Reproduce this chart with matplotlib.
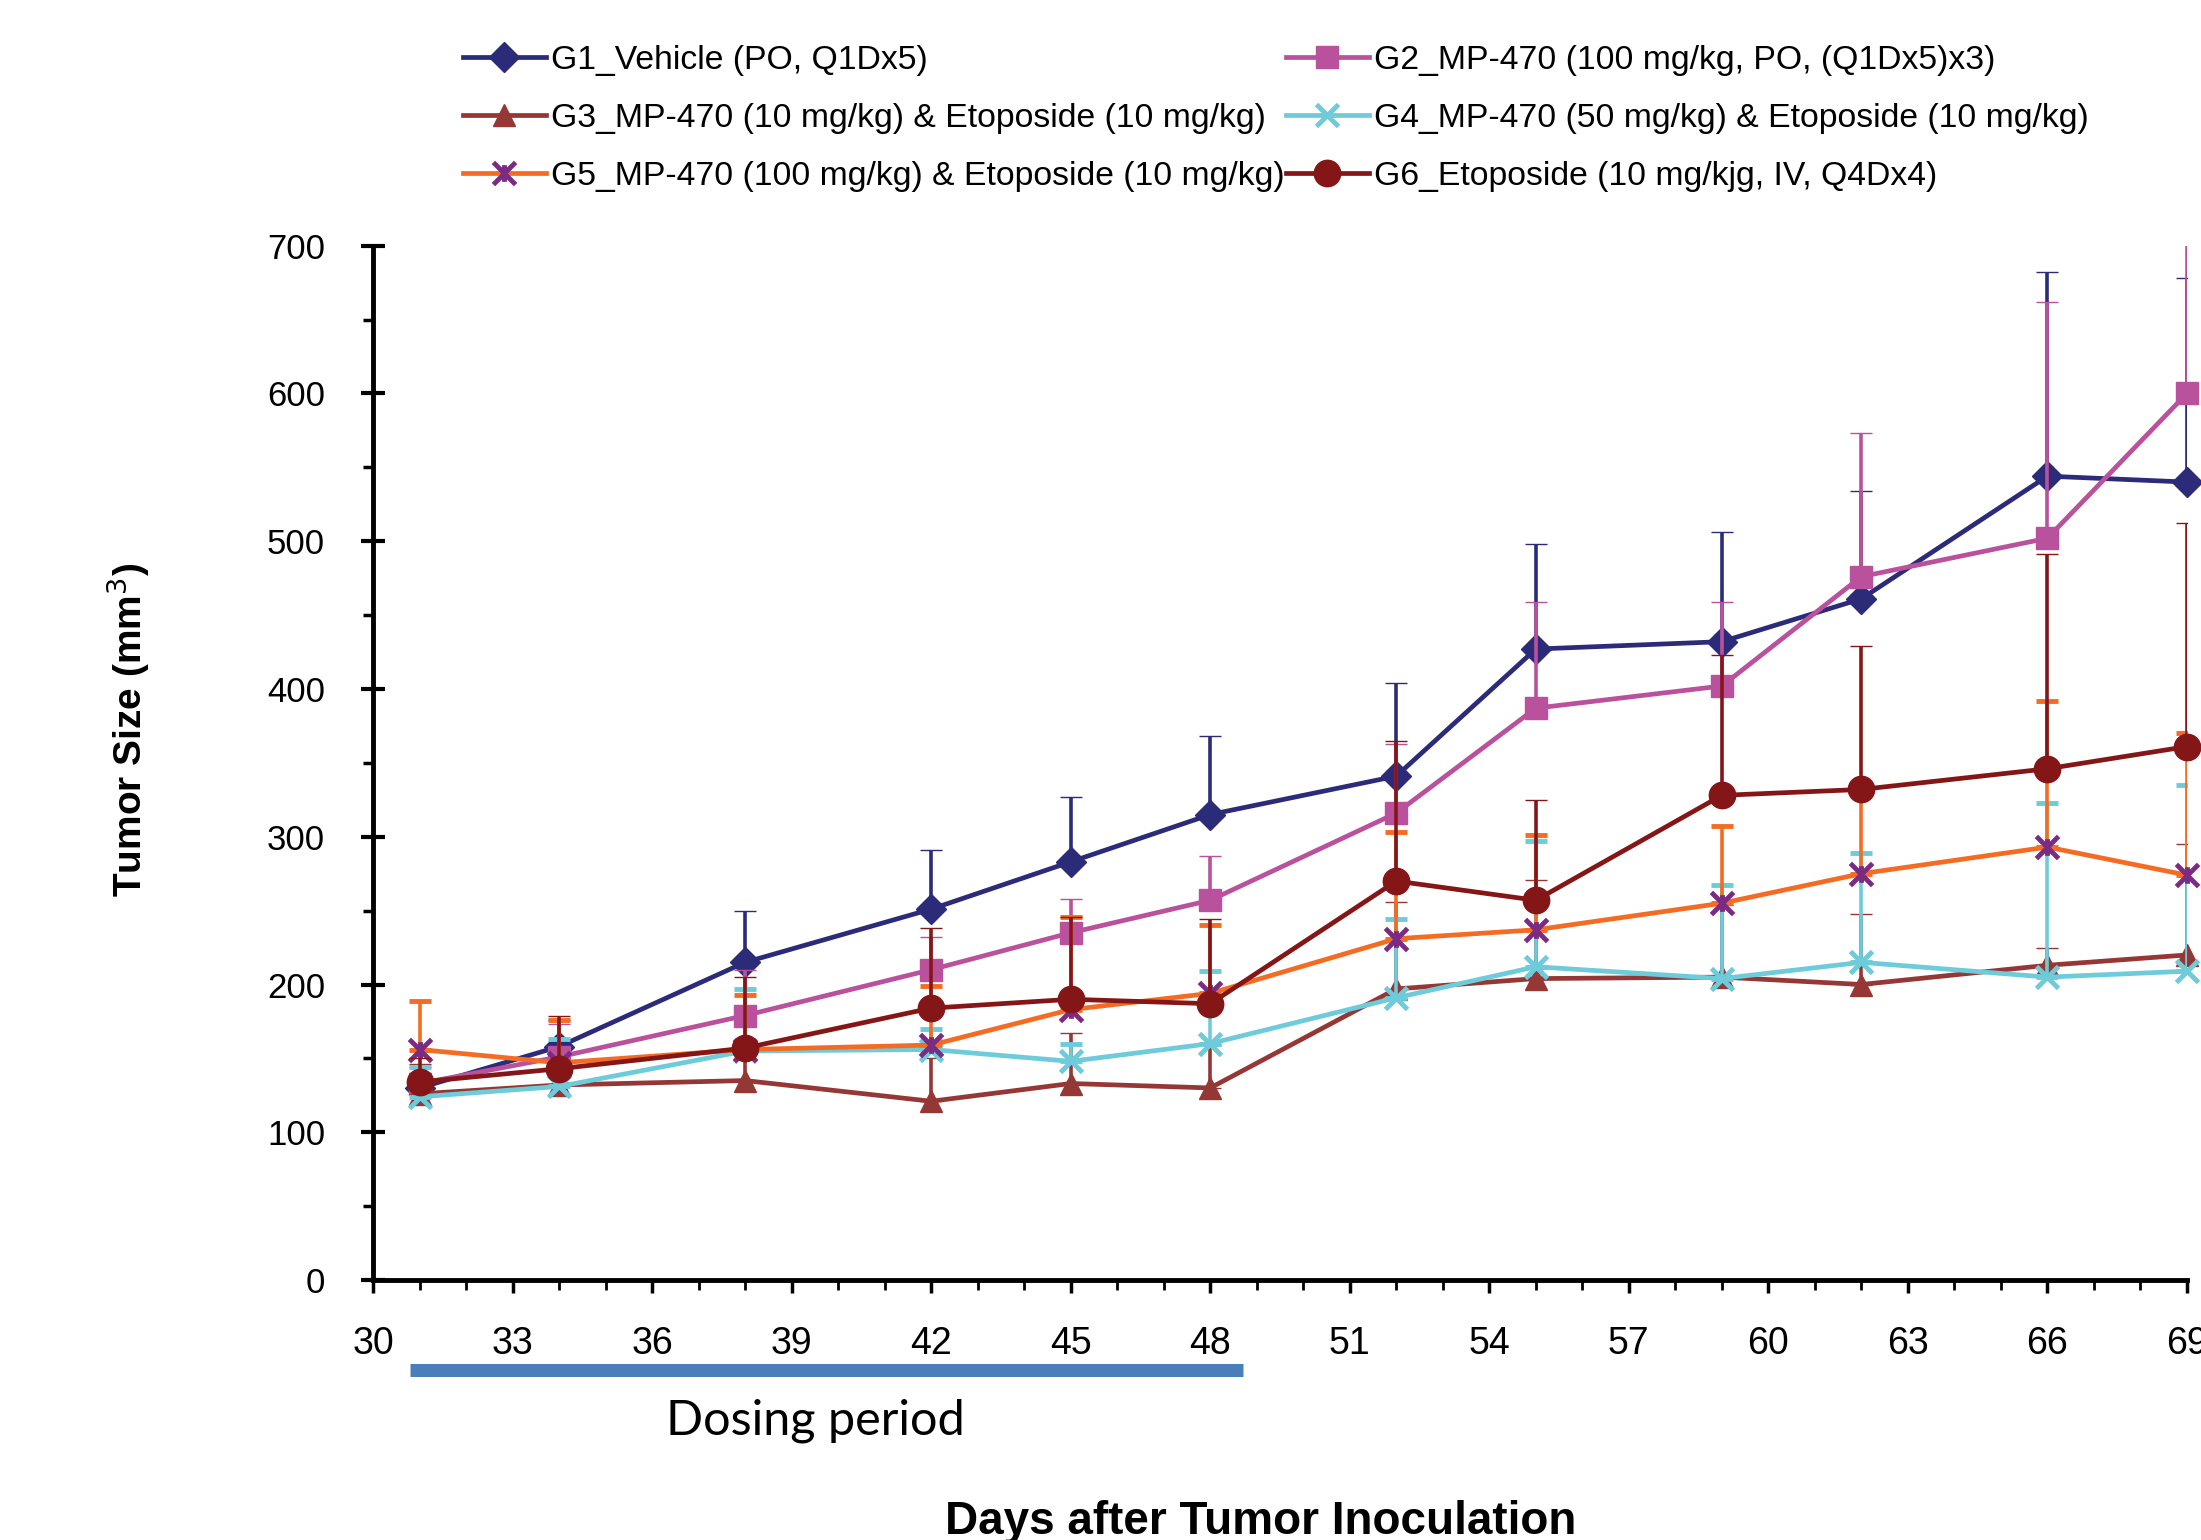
import numpy as np
import matplotlib
matplotlib.use('Agg')
import matplotlib.pyplot as plt
import matplotlib.transforms as mtransforms
from matplotlib.path import Path
from matplotlib.ticker import MultipleLocator

plt.rcParams['font.family'] = ['Liberation Sans', 'DejaVu Sans']

days = [31, 34, 38, 42, 45, 48, 52, 55, 59, 62, 66, 69]

# mean tumor size (mm3) and top of the error bar for each group
g1 = [130, 158, 215, 251, 283, 315, 341, 427, 432, 461, 544, 540]
g1_top = [140, 176, 250, 291, 327, 368, 404, 498, 506, 534, 682, 678]
g2 = [133, 151, 179, 210, 235, 257, 316, 387, 402, 476, 502, 600]
g2_top = [144, 173, 210, 232, 258, 287, 363, 459, 459, 573, 662, 735]
g3 = [126, 132, 135, 121, 133, 130, 197, 204, 205, 200, 213, 220]
g3_top = [146, 140, 150, 150, 167, 159, 256, 271, 254, 248, 225, 295]
g4 = [124, 131, 155, 156, 148, 160, 191, 212, 204, 215, 205, 209]
g4_top = [144, 163, 197, 170, 160, 209, 244, 297, 267, 289, 323, 335]
g5 = [156, 147, 156, 159, 183, 194, 231, 237, 255, 275, 293, 274]
g5_top = [189, 176, 193, 199, 246, 240, 303, 301, 307, 335, 392, 370]
g6 = [134, 143, 157, 184, 190, 187, 270, 257, 328, 332, 346, 361]
g6_top = [150, 179, 205, 238, 246, 244, 365, 325, 423, 429, 491, 512]

labels = ['G1_Vehicle (PO, Q1Dx5)',
          'G2_MP-470 (100 mg/kg, PO, (Q1Dx5)x3)',
          'G3_MP-470 (10 mg/kg) & Etoposide (10 mg/kg)',
          'G4_MP-470 (50 mg/kg) & Etoposide (10 mg/kg)',
          'G5_MP-470 (100 mg/kg) & Etoposide (10 mg/kg)',
          'G6_Etoposide (10 mg/kjg, IV, Q4Dx4)']

dosing = [30.8, 48.7]

# excel style star marker: an X with a short vertical stroke
star = Path([(-1, -1), (1, 1), (-1, 1), (1, -1), (0, -0.75), (0, 0.75)],
            [Path.MOVETO, Path.LINETO, Path.MOVETO, Path.LINETO, Path.MOVETO, Path.LINETO])

styles = [
    dict(color='#2B2B7A', marker='D', ms=15, mfc='#2B2B7A', mec='#2B2B7A', mew=1),
    dict(color='#B9519C', marker='s', ms=16, mfc='#B9519C', mec='#B9519C', mew=1),
    dict(color='#953735', marker='^', ms=16, mfc='#953735', mec='#953735', mew=1),
    dict(color='#6DCBDA', marker='x', ms=16, mfc='none', mec='#6DCBDA', mew=3.5),
    dict(color='#F46C23', marker=star, ms=16, mfc='none', mec='#7B2B83', mew=3.5),
    dict(color='#851617', marker='o', ms=19, mfc='#851617', mec='#851617', mew=1),
]
means = [g1, g2, g3, g4, g5, g6]
tops = [g1_top, g2_top, g3_top, g4_top, g5_top, g6_top]

fig = plt.figure(figsize=(22.01, 15.40), dpi=100)
ax = fig.add_axes([0.1695, 0.1688, 0.8241, 0.6717])

handles = []
for i in range(6):
    m = np.array(means[i])
    up = np.array(tops[i]) - m
    st = styles[i]
    cont = ax.errorbar(days, m, yerr=[np.zeros_like(up), up], color=st['color'], lw=3.4,
                       marker=st['marker'], ms=st['ms'], mfc=st['mfc'], mec=st['mec'],
                       mew=st['mew'], ecolor=st['color'], elinewidth=2.6, capsize=8,
                       capthick=3.2, zorder=3 + i, label=labels[i])
    cont[0].set_clip_on(False)
    handles.append(cont[0])

ax.set_xlim(30, 69)
ax.set_ylim(0, 700)
for side in ['top', 'right']:
    ax.spines[side].set_visible(False)
for side in ['left', 'bottom']:
    ax.spines[side].set_linewidth(3.5)

ax.xaxis.set_major_locator(MultipleLocator(3))
ax.xaxis.set_minor_locator(MultipleLocator(1))
ax.yaxis.set_major_locator(MultipleLocator(100))
ax.yaxis.set_minor_locator(MultipleLocator(50))
ax.tick_params(axis='y', which='major', direction='inout', length=17, width=3, labelsize=25, pad=26)
ax.tick_params(axis='y', which='minor', direction='out', length=7, width=2.5)
ax.tick_params(axis='x', which='major', direction='out', length=9, width=2.5, labelsize=27, pad=24)
ax.tick_params(axis='x', which='minor', direction='out', length=7, width=2)

ax.set_ylabel('Tumor Size (mm$^3$)', fontsize=28, fontweight='bold')
ax.yaxis.set_label_coords(-0.122, 0.532)
ax.set_xlabel('Days after Tumor Inoculation', fontsize=33, fontweight='bold', va='center')
ax.xaxis.set_label_coords(0.4895, -0.234)

# dosing period bar under the x axis
trans = mtransforms.blended_transform_factory(ax.transData, ax.transAxes)
ax.plot(dosing, [-0.0865, -0.0865], color='#4A7EBB', lw=9.4, solid_capstyle='butt',
        transform=trans, clip_on=False)
ax.text(sum(dosing) / 2 - 0.25, -0.136, 'Dosing period', transform=trans, fontsize=35,
        family=['Lato', 'DejaVu Sans'], ha='center', va='center')

order = [0, 2, 4, 1, 3, 5]
fig.legend([handles[k] for k in order], [labels[k] for k in order], ncol=2,
           loc='upper left', bbox_to_anchor=(0.2104, 0.971), frameon=False,
           fontsize=24.3, handlelength=2.45, handletextpad=0.15, columnspacing=0.05,
           labelspacing=0.8, borderpad=0, borderaxespad=0, numpoints=1)

fig.savefig('out.png', dpi=100)
